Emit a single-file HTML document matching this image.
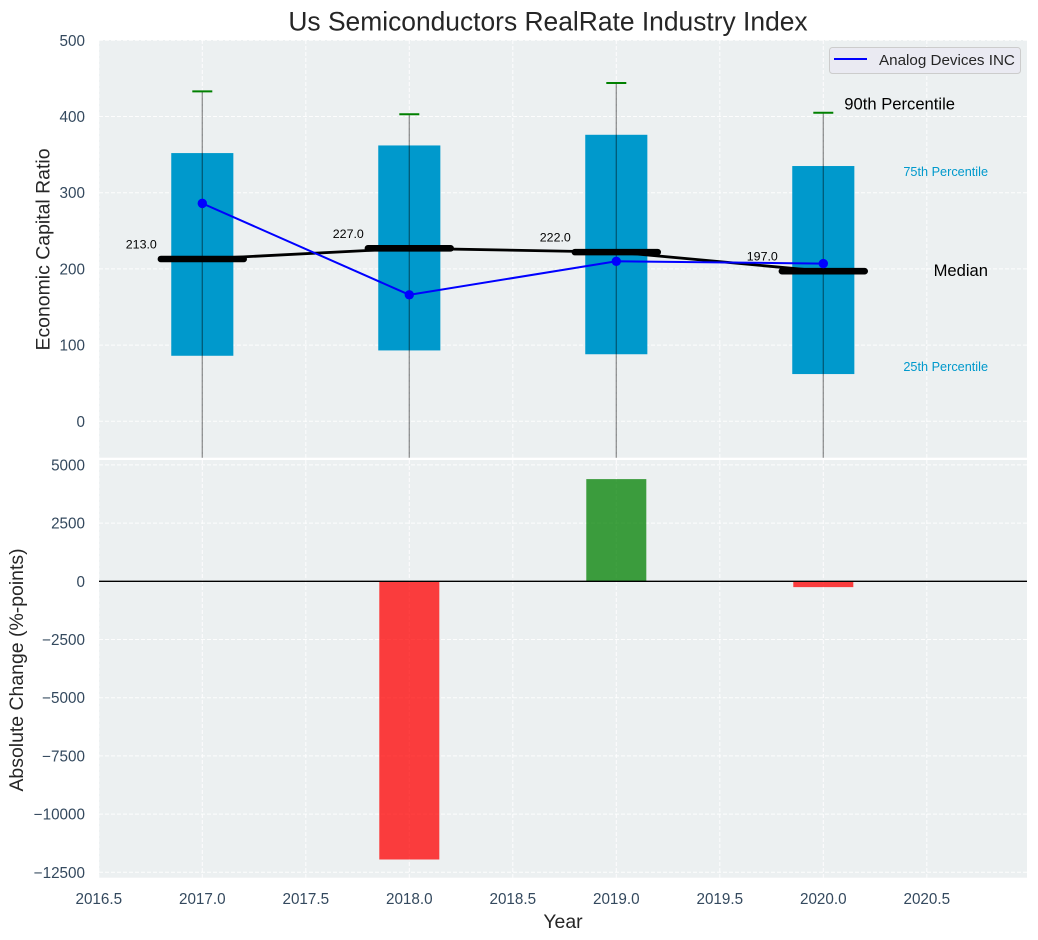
<!DOCTYPE html>
<html>
<head>
<meta charset="utf-8">
<title>Us Semiconductors RealRate Industry Index</title>
<style>
html,body{margin:0;padding:0;background:#fff;}
svg{display:block;font-family:"Liberation Sans",Arial,sans-serif;}
</style>
</head>
<body>
<svg id="chart" width="1038" height="940" viewBox="0 0 1038 940" xmlns="http://www.w3.org/2000/svg">
  <defs>
    <clipPath id="clip-top"><rect x="99" y="40" width="928" height="417.7"/></clipPath>
    <clipPath id="clip-bottom"><rect x="99" y="460" width="928" height="417.7"/></clipPath>
  </defs>
  <rect x="99" y="40" width="928" height="417.7" fill="#ecf0f1"/>
  <rect x="99" y="460" width="928" height="417.7" fill="#ecf0f1"/>
  <g id="top-grid"></g>
  <g id="bottom-grid"></g>
  <g id="top-marks" clip-path="url(#clip-top)"></g>
  <g id="bottom-marks" clip-path="url(#clip-bottom)"></g>
  <g id="tick-labels"></g>
  <g id="value-labels"></g>
  <text x="548" y="30.5" text-anchor="middle" font-size="26.4" fill="#262626">Us Semiconductors RealRate Industry Index</text>
  <text transform="translate(49.5,249.5) rotate(-90)" text-anchor="middle" font-size="19.45" fill="#262626">Economic Capital Ratio</text>
  <text transform="translate(23,670) rotate(-90)" text-anchor="middle" font-size="19.45" fill="#262626">Absolute Change (%-points)</text>
  <text x="563" y="928" text-anchor="middle" font-size="19.45" fill="#262626">Year</text>
  <g>
    <rect x="829.5" y="47.5" width="191" height="26" rx="3" fill="#eaeaf2" stroke="#cccccc" stroke-width="1"/>
    <line x1="834" y1="59" x2="867" y2="59" stroke="#0000ff" stroke-width="2"/>
    <text x="879" y="65" font-size="15.2" fill="#262626">Analog Devices INC</text>
  </g>
</svg>
<script>
var years = [2017, 2018, 2019, 2020];
var p90 = [433, 403, 444, 405];
var p75 = [352, 362, 376, 335];
var medians = [213, 227, 222, 197];
var p25 = [86, 93, 88, 62];
var p10 = [-60, -60, -60, -60];
var company = [286, 166, 210, 207];
var changes = [0, -11950, 4390, -250];
var xTicks = [2016.5, 2017, 2017.5, 2018, 2018.5, 2019, 2019.5, 2020, 2020.5];
var topTicks = [0, 100, 200, 300, 400, 500];
var bottomTicks = [-12500, -10000, -7500, -5000, -2500, 0, 2500, 5000];

var NS = 'http://www.w3.org/2000/svg';
function x(v) { return 202.3 + (v - 2017) * 207; }
function yTop(v) { return 421.3 - v * 0.762; }
function yBottom(v) { return 581.3 - v * 0.02328; }
function make(tag, parent, attrs) {
  var node = document.createElementNS(NS, tag);
  for (var k in attrs) { node.setAttribute(k, attrs[k]); }
  parent.appendChild(node);
  return node;
}
function fmt(v) { return v < 0 ? '\u2212' + (-v) : String(v); }
var topGrid = document.getElementById('top-grid');
var bottomGrid = document.getElementById('bottom-grid');
var topMarks = document.getElementById('top-marks');
var bottomMarks = document.getElementById('bottom-marks');
var tickLabels = document.getElementById('tick-labels');
var valueLabels = document.getElementById('value-labels');
var gridStyle = { stroke: '#ffffff', 'stroke-width': 1, 'stroke-dasharray': '4 2', opacity: 0.9 };
var tickColor = '#34495e';
var tickSize = 15.25;

xTicks.forEach(function (t) {
  var a = make('line', topGrid, Object.assign({ x1: x(t), x2: x(t), y1: 40, y2: 457.7 }, gridStyle));
  
  
  var b = make('line', bottomGrid, Object.assign({ x1: x(t), x2: x(t), y1: 460, y2: 877.7 }, gridStyle));
  
  
  var lab = make('text', tickLabels, { x: x(t), y: 904, 'text-anchor': 'middle', 'font-size': tickSize, fill: tickColor });
  lab.textContent = t.toFixed(1);
  
  
});
topTicks.forEach(function (t) {
  var g = make('line', topGrid, Object.assign({ x1: 99, x2: 1027, y1: yTop(t), y2: yTop(t) }, gridStyle));
  
  
  var lab = make('text', tickLabels, { x: 85, y: yTop(t) + 5.5, 'text-anchor': 'end', 'font-size': tickSize, fill: tickColor });
  lab.textContent = fmt(t);
  
  
});
bottomTicks.forEach(function (t) {
  var g = make('line', bottomGrid, Object.assign({ x1: 99, x2: 1027, y1: yBottom(t), y2: yBottom(t) }, gridStyle));
  
  
  var lab = make('text', tickLabels, { x: 85, y: yBottom(t) + 5.5, 'text-anchor': 'end', 'font-size': tickSize, fill: tickColor });
  lab.textContent = fmt(t);
  
  
});

years.forEach(function (yr, i) {
  var box = make('rect', topMarks, { x: x(yr - 0.15), width: x(yr + 0.15) - x(yr - 0.15), y: yTop(p75[i]), height: yTop(p25[i]) - yTop(p75[i]), fill: '#0099cc' });
  
  
  var whisker = make('line', topMarks, { x1: x(yr), x2: x(yr), y1: yTop(p90[i]), y2: yTop(p10[i]), stroke: '#000000', 'stroke-opacity': 0.42, 'stroke-width': 1.3 });
  
  
  var cap = make('line', topMarks, { x1: x(yr) - 10, x2: x(yr) + 10, y1: yTop(p90[i]), y2: yTop(p90[i]), stroke: '#008000', 'stroke-width': 2 });
  
  
});

var medianPoints = years.map(function (yr, i) { return x(yr) + ',' + yTop(medians[i]); }).join(' ');
var medianLine = make('polyline', topMarks, { points: medianPoints, fill: 'none', stroke: '#000000', 'stroke-width': 2.8 });


years.forEach(function (yr, i) {
  var bar = make('line', topMarks, { x1: x(yr - 0.2), x2: x(yr + 0.2), y1: yTop(medians[i]), y2: yTop(medians[i]), stroke: '#000000', 'stroke-width': 6.6, 'stroke-linecap': 'round' });
  
  
});
var companyPoints = years.map(function (yr, i) { return x(yr) + ',' + yTop(company[i]); }).join(' ');
var companyLine = make('polyline', topMarks, { points: companyPoints, fill: 'none', stroke: '#0000ff', 'stroke-width': 2 });


years.forEach(function (yr, i) {
  var dot = make('circle', topMarks, { cx: x(yr), cy: yTop(company[i]), r: 4.7, fill: '#0000ff' });
  
  
});

years.forEach(function (yr, i) {
  var lab = make('text', valueLabels, { x: x(yr) - 45.5, y: yTop(medians[i]) - 10.5, 'text-anchor': 'end', 'font-size': 12.4, fill: '#000000' });
  lab.textContent = medians[i].toFixed(1);
  
  
});

var last = years.length - 1;
var a90 = make('text', valueLabels, { x: x(years[last]) + 21, y: yTop(p90[last]) - 3, 'font-size': 16.6, fill: '#000000' });
a90.textContent = '90th Percentile';


var a75 = make('text', valueLabels, { x: 988, y: yTop(p75[last]) + 10, 'text-anchor': 'end', 'font-size': 12.7, fill: '#0099cc' });
a75.textContent = '75th Percentile';


var aMed = make('text', valueLabels, { x: 988, y: yTop(medians[last]) + 5, 'text-anchor': 'end', 'font-size': 16.6, fill: '#000000' });
aMed.textContent = 'Median';


var a25 = make('text', valueLabels, { x: 988, y: yTop(p25[last]) - 3, 'text-anchor': 'end', 'font-size': 12.7, fill: '#0099cc' });
a25.textContent = '25th Percentile';



years.forEach(function (yr, i) {
  var v = changes[i];
  var top = yBottom(Math.max(v, 0));
  var bottom = yBottom(Math.min(v, 0));
  var bar = make('rect', bottomMarks, { x: x(yr - 0.145), width: x(yr + 0.145) - x(yr - 0.145), y: top, height: bottom - top, fill: v < 0 ? '#ff0000' : '#008000', 'fill-opacity': 0.75 });
  
  
});
var zero = make('line', bottomMarks, { x1: 99, x2: 1027, y1: yBottom(0), y2: yBottom(0), stroke: '#000000', 'stroke-width': 1.3 });


</script>
</body>
</html>
